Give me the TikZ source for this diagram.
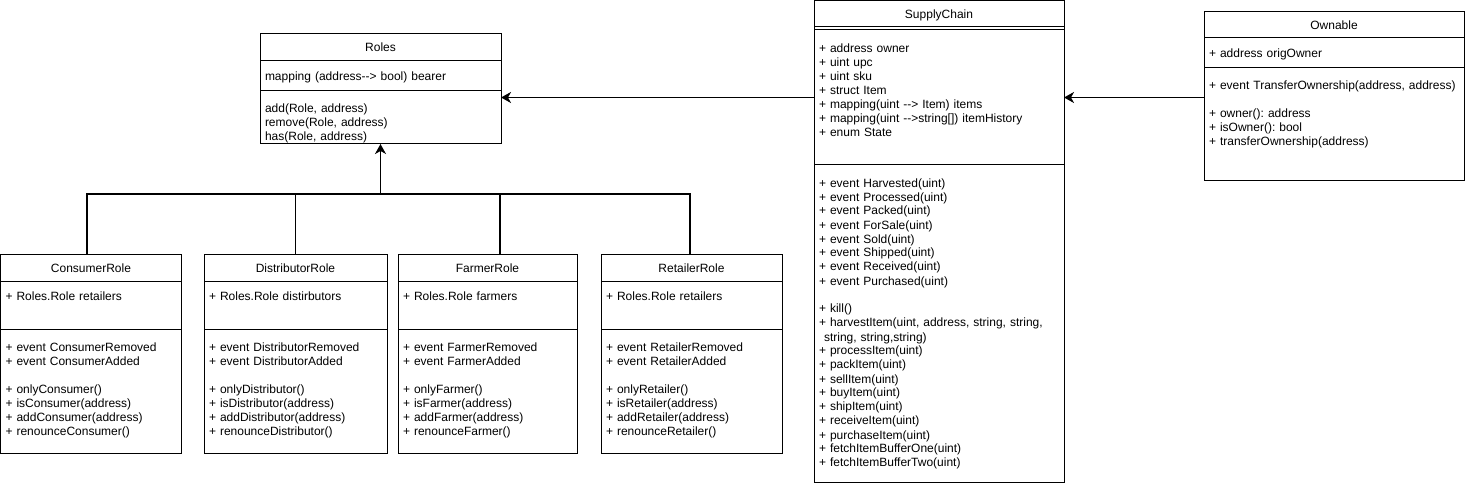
\documentclass[tikz,border=0pt]{standalone}
\usepackage{fontspec}
\setmainfont{Liberation Sans}
\usetikzlibrary{arrows.meta, positioning}

\tikzset{
  head/.style = {draw, line width=1pt, outer sep=0pt, inner sep=0pt, anchor=north west, minimum height=27, text height=10.5pt, text depth=1.5pt},
  attrs/.style = {draw, line width=1pt, outer sep=0pt, inner xsep=5pt, inner ysep=0pt, align=left, text height=19.5pt},
  ops/.style = {attrs, text height=22pt},
  link/.style = {line width=1.5pt},
  inherit/.style = {link, -{Stealth[length=10pt, width=11pt, inset=3pt]}},
}

\begin{document}
\begin{tikzpicture}[x=1pt, y=-1pt, font=\fontsize{12}{14}\selectfont\frenchspacing]
  \useasboundingbox (0,0) rectangle (1465,484);

  % Roles
  \node[head, minimum width=241] (roles) at (260,34) {Roles};
  \node[attrs, text width=231pt, text depth=10.5pt, below=0pt of roles] (roles-a) {mapping (address-{}-> bool) bearer};
  \node[ops, text width=231pt, text depth=31pt, below=0pt of roles-a] (roles-o) {add(Role, address)\\remove(Role, address)\\has(Role, address)};

  % SupplyChain
  \node[head, minimum width=250, minimum height=26] (sc) at (814,1) {SupplyChain};
  \node[draw, line width=1pt, outer sep=0pt, inner sep=0pt, minimum width=250, minimum height=3, below=0pt of sc] (sc-g) {};
  \node[attrs, text width=240pt, text height=22.5pt, text depth=112.5pt, below=0pt of sc-g] (sc-a) {+ address owner\\+ uint upc\\+ uint sku\\+ struct Item\\+ mapping(uint -{}-> Item) items\\+ mapping(uint -{}->string[]) itemHistory\\+ enum State};
  \node[ops, text width=240pt, text depth=295pt, below=0pt of sc-a] (sc-o) {+ event Harvested(uint)\\+ event Processed(uint)\\+ event Packed(uint)\\+ event ForSale(uint)\\+ event Sold(uint)\\+ event Shipped(uint)\\+ event Received(uint)\\+ event Purchased(uint)\\[14pt]+ kill()\\+ harvestItem(uint, address, string, string,\\\hspace*{5pt}string, string,string)\\+ processItem(uint)\\+ packItem(uint)\\+ sellItem(uint)\\+ buyItem(uint)\\+ shipItem(uint)\\+ receiveItem(uint)\\+ purchaseItem(uint)\\+ fetchItemBufferOne(uint)\\+ fetchItemBufferTwo(uint)};

  % Ownable
  \node[head, minimum width=260, minimum height=26] (own) at (1204,12) {Ownable};
  \node[attrs, text width=250pt, text depth=10.5pt, below=0pt of own] (own-a) {+ address origOwner};
  \node[ops, text width=250pt, text depth=91pt, below=0pt of own-a] (own-o) {+ event TransferOwnership(address, address)\\[14pt]+ owner(): address\\+ isOwner(): bool\\+ transferOwnership(address)};

  % role contracts
  \node[head, minimum width=181] (cons) at (0.5,254) {ConsumerRole};
  \node[attrs, text width=171pt, text depth=28.5pt, below=0pt of cons] (cons-a) {+ Roles.Role retailers};
  \node[ops, text width=171pt, text depth=102pt, below=0pt of cons-a] (cons-o) {+ event ConsumerRemoved\\+ event ConsumerAdded\\[14pt]+ onlyConsumer()\\+ isConsumer(address)\\+ addConsumer(address)\\+ renounceConsumer()};

  \node[head, minimum width=183] (dist) at (204,254) {DistributorRole};
  \node[attrs, text width=173pt, text depth=28.5pt, below=0pt of dist] (dist-a) {+ Roles.Role distirbutors};
  \node[ops, text width=173pt, text depth=102pt, below=0pt of dist-a] (dist-o) {+ event DistributorRemoved\\+ event DistributorAdded\\[14pt]+ onlyDistributor()\\+ isDistributor(address)\\+ addDistributor(address)\\+ renounceDistributor()};

  \node[head, minimum width=179] (farm) at (398,254) {FarmerRole};
  \node[attrs, text width=169pt, text depth=28.5pt, below=0pt of farm] (farm-a) {+ Roles.Role farmers};
  \node[ops, text width=169pt, text depth=102pt, below=0pt of farm-a] (farm-o) {+ event FarmerRemoved\\+ event FarmerAdded\\[14pt]+ onlyFarmer()\\+ isFarmer(address)\\+ addFarmer(address)\\+ renounceFarmer()};

  \node[head, minimum width=181] (ret) at (601,254) {RetailerRole};
  \node[attrs, text width=171pt, text depth=28.5pt, below=0pt of ret] (ret-a) {+ Roles.Role retailers};
  \node[ops, text width=171pt, text depth=102pt, below=0pt of ret-a] (ret-o) {+ event RetailerRemoved\\+ event RetailerAdded\\[14pt]+ onlyRetailer()\\+ isRetailer(address)\\+ addRetailer(address)\\+ renounceRetailer()};

  % connectors
  \coordinate (bar) at (380.5,194);
  \draw[link] ([xshift=-4pt]cons.north) |- (bar) -| ([xshift=-1.5pt]ret.north);
  \draw[link] (dist.north) -- (dist.north |- bar);
  \draw[link] ([xshift=12.5pt]farm.north) -- ([xshift=12.5pt]farm.north |- bar);
  \draw[inherit] (bar) -- (roles-o.south);
  \draw[inherit] (sc-a.west) -- (sc-a.west -| roles-o.east);
  \draw[inherit] (own-o.west |- sc-a.west) -- (sc-a.east);
\end{tikzpicture}
\end{document}
